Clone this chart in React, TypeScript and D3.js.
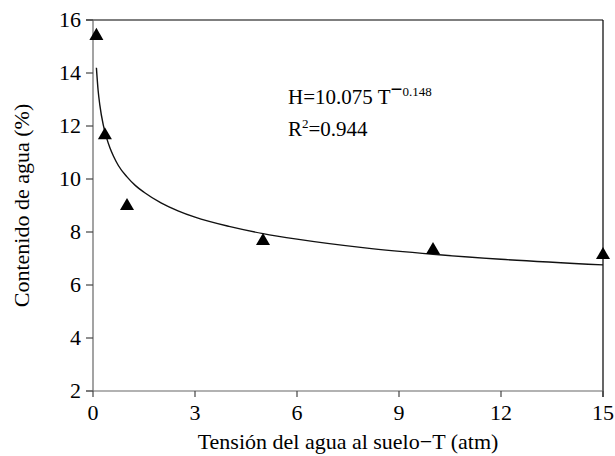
import React from "react";
import * as d3 from "d3";

// measured points (tension T in atm, water content %)
const tension = [0.1, 0.35, 1, 5, 10, 15];
const water = [15.4, 11.65, 8.98, 7.66, 7.32, 7.13];

// fitted curve
const fitT = [0.1, 0.15, 0.2, 0.3, 0.4, 0.5, 0.6, 0.75, 1, 1.25, 1.5, 2, 2.5, 3, 4, 5, 6, 8, 10, 12, 15];
const fitH = [14.2, 13.35, 12.8, 12.05, 11.55, 11.17, 10.87, 10.5, 10.08, 9.75, 9.5, 9.1, 8.8, 8.56, 8.21, 7.94, 7.73, 7.4, 7.16, 6.97, 6.76];

const xTicks = [0, 3, 6, 9, 12, 15];
const yTicks = [2, 4, 6, 8, 10, 12, 14, 16];

const FONT = '"Liberation Serif", "Times New Roman", Times';

export default function App() {
  const x = d3.scaleLinear().domain([0, 15]).range([93, 603]);
  const y = d3.scaleLinear().domain([2, 16]).range([391, 20]);

  const line = d3.line<[number, number]>()
    .x((d) => x(d[0]))
    .y((d) => y(d[1]))
    .curve(d3.curveMonotoneX);
  const fit = fitT.map((t, i) => [t, fitH[i]] as [number, number]);
  const tri = d3.symbol().type(d3.symbolTriangle).size(85)() as string;

  const txt = { fontFamily: FONT, fontSize: "22px" };

  return (
    <svg width={615} height={456} style={{ position: "absolute", left: 0, top: 0 }}>
      {/* frame top/right */}
      <line x1={86} x2={x(15)} y1={y(16)} y2={y(16)} stroke="#000" strokeWidth={1.2} />
      <line x1={x(15)} x2={x(15)} y1={y(16)} y2={y(2) + 6} stroke="#000" strokeWidth={1.2} />

      {/* y axis */}
      <line x1={x(0)} x2={x(0)} y1={y(16)} y2={y(2)} stroke="#666" strokeWidth={1.2} />
      {yTicks.map((t) => (
        <g key={t} transform={`translate(${x(0)},${y(t)})`}>
          <line x1={-7} x2={0} stroke="#444" strokeWidth={1.2} />
          <text x={-12} dy="0.33em" textAnchor="end" style={txt}>{t}</text>
        </g>
      ))}

      {/* x axis */}
      <line x1={x(0) - 7} x2={x(15)} y1={y(2)} y2={y(2)} stroke="#666" strokeWidth={1.2} />
      {xTicks.map((t) => (
        <g key={t} transform={`translate(${x(t)},${y(2)})`}>
          <line y1={0} y2={6} stroke="#444" strokeWidth={1.2} />
          <text y={29} textAnchor="middle" style={txt}>{t}</text>
        </g>
      ))}

      {/* fitted curve */}
      <path d={line(fit) as string} fill="none" stroke="#111" strokeWidth={1.4} />

      {/* points */}
      {tension.map((t, i) => (
        <path key={i} d={tri} transform={`translate(${x(t)},${y(water[i])})`} fill="#000" />
      ))}

      {/* equation */}
      <text x={288} y={104} style={{ fontFamily: FONT, fontSize: "21px" }}>
        H=10.075 T
        <tspan dy={-8} fontWeight="bold">−</tspan>
        <tspan style={{ fontSize: "13px" }}>0.148</tspan>
      </text>
      <text x={288} y={136} style={{ fontFamily: FONT, fontSize: "21px" }}>
        R<tspan dy={-8} style={{ fontSize: "13px" }}>2</tspan>
        <tspan dy={8}>=0.944</tspan>
      </text>

      {/* axis titles */}
      <text x={(x(0) + x(15)) / 2} y={449} textAnchor="middle" style={txt}>
        Tensión del agua al suelo−T (atm)
      </text>
      <text transform={`translate(29,${(y(2) + y(16)) / 2}) rotate(-90)`} textAnchor="middle" style={txt}>
        Contenido de agua (%)
      </text>
    </svg>
  );
}
